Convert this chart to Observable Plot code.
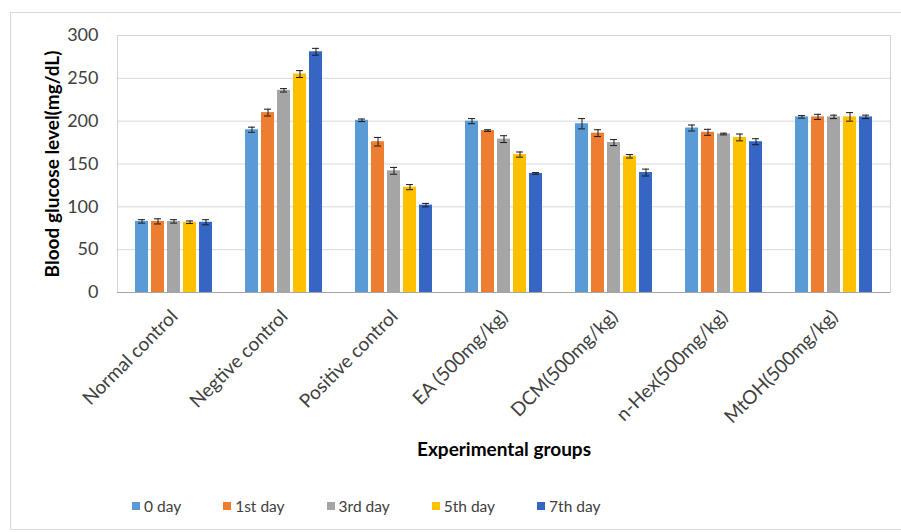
<!DOCTYPE html>
<html>
<head>
<meta charset="utf-8">
<script src="https://cdn.jsdelivr.net/npm/d3@7"></script>
<script src="https://cdn.jsdelivr.net/npm/@observablehq/plot@0.6"></script>
<style>
  html, body { margin: 0; padding: 0; background: #fff; }
  #wrap { position: relative; width: 901px; height: 532px; overflow: hidden; font-family: Lato, "Open Sans", sans-serif; }
  #border { position: absolute; left: 10px; top: 12px; right: -10px; bottom: 2px; border: 1px solid #d9d9d9; }
  #bg, #fg { position: absolute; left: 0; top: 0; }
  #legend { position: absolute; left: 132px; top: 497px; display: flex; gap: 42px; align-items: center; font-size: 15.5px; color: #404040; }
  .item { display: flex; align-items: center; gap: 4px; }
  .sw { width: 8px; height: 8px; display: inline-block; }
</style>
</head>
<body>
<div id="wrap">
  <div id="border"></div>
  <div id="bg"></div>
  <div id="fg"></div>
  <div id="legend"></div>
</div>
<script>
const groups = ["Normal control", "Negtive control", "Positive control", "EA (500mg/kg)", "DCM(500mg/kg)", "n-Hex(500mg/kg)", "MtOH(500mg/kg)"];
const series = ["0 day", "1st day", "3rd day", "5th day", "7th day"];
const colors = ["#5b9bd5", "#ed7d31", "#a5a5a5", "#ffc000", "#3566c3"];

const day0 = [83, 190, 201, 200, 197, 192, 205];
const day1 = [83, 210, 176, 189, 186, 187, 205];
const day3 = [83, 236, 142, 179, 175, 185, 205];
const day5 = [82, 255, 123, 161, 159, 181, 205];
const day7 = [82, 281, 102, 139, 140, 176, 205];

const err0 = [2, 3, 1.5, 3, 6, 3.5, 1.5];
const err1 = [3, 4, 5, 1, 4, 3.5, 3];
const err3 = [2, 2, 4, 4, 3.5, 1, 2];
const err5 = [1.5, 4, 3, 3, 2, 4, 5];
const err7 = [3, 4, 2, 1, 4, 3.5, 2];

const yTicks = [0, 50, 100, 150, 200, 250, 300];
const yTitle = "Blood glucose level(mg/dL)";
const xTitle = "Experimental groups";

const vals = [day0, day1, day3, day5, day7];
const errs = [err0, err1, err3, err5, err7];
const data = [];
groups.forEach((g, i) => series.forEach((s, j) => data.push({group: g, series: s, v: vals[j][i], e: errs[j][i]})));

const W = 901, H = 485;
const margins = {marginLeft: 117, marginRight: 11, marginTop: 35, marginBottom: 193};
const bandPad = {paddingInner: 0.26, paddingOuter: 0.13};
const font = {fontFamily: "Lato, 'Open Sans', sans-serif", background: "transparent", color: "#404040"};

const bg = Plot.plot({
  width: W, height: H, ...margins,
  style: {...font, fontSize: "17px"},
  x: {domain: groups, ...bandPad},
  y: {domain: [0, 300]},
  marks: [
    Plot.gridY(yTicks, {stroke: "#d9d9d9", strokeOpacity: 1}),
    Plot.frame({stroke: "#d4d4d4"}),
    Plot.ruleY([0], {stroke: "#a6a6a6"}),
    Plot.axisY(yTicks, {tickSize: 0, tickPadding: 19, fontSize: 18, label: null}),
    Plot.axisX({tickSize: 0, tickRotate: -45, label: null, fontSize: 19, dy: 9}),
    Plot.text([yTitle], {text: d => d, frameAnchor: "left", textAnchor: "middle", lineAnchor: "middle", rotate: -90, dx: -65, fontWeight: "bold", fontSize: 19, fill: "#000"}),
    Plot.text([xTitle], {text: d => d, frameAnchor: "bottom", lineAnchor: "middle", dy: 157, fontWeight: "bold", fontSize: 19, fill: "#000"})
  ]
});
document.getElementById("bg").appendChild(bg);

const fg = Plot.plot({
  width: W, height: H, ...margins,
  style: {...font},
  fx: {domain: groups, ...bandPad, axis: null, label: null},
  x: {domain: series, paddingInner: 0.2, paddingOuter: 0, axis: null},
  y: {domain: [0, 300], axis: null},
  color: {domain: series, range: colors},
  marks: [
    Plot.barY(data, {fx: "group", x: "series", y: "v", fill: "series"}),
    Plot.ruleX(data, {fx: "group", x: "series", y1: d => d.v - d.e, y2: d => d.v + d.e, stroke: "#1a1a1a", strokeWidth: 1}),
    Plot.tickY(data, {fx: "group", x: "series", y: d => d.v + d.e, stroke: "#1a1a1a", insetLeft: 3, insetRight: 3}),
    Plot.tickY(data, {fx: "group", x: "series", y: d => d.v - d.e, stroke: "#1a1a1a", insetLeft: 3, insetRight: 3})
  ]
});
document.getElementById("fg").appendChild(fg);

const legend = document.getElementById("legend");
series.forEach((s, j) => {
  const it = document.createElement("div");
  it.className = "item";
  const sw = document.createElement("span");
  sw.className = "sw";
  sw.style.background = colors[j];
  const t = document.createElement("span");
  t.textContent = s;
  it.appendChild(sw); it.appendChild(t);
  legend.appendChild(it);
});
</script>
</body>
</html>
